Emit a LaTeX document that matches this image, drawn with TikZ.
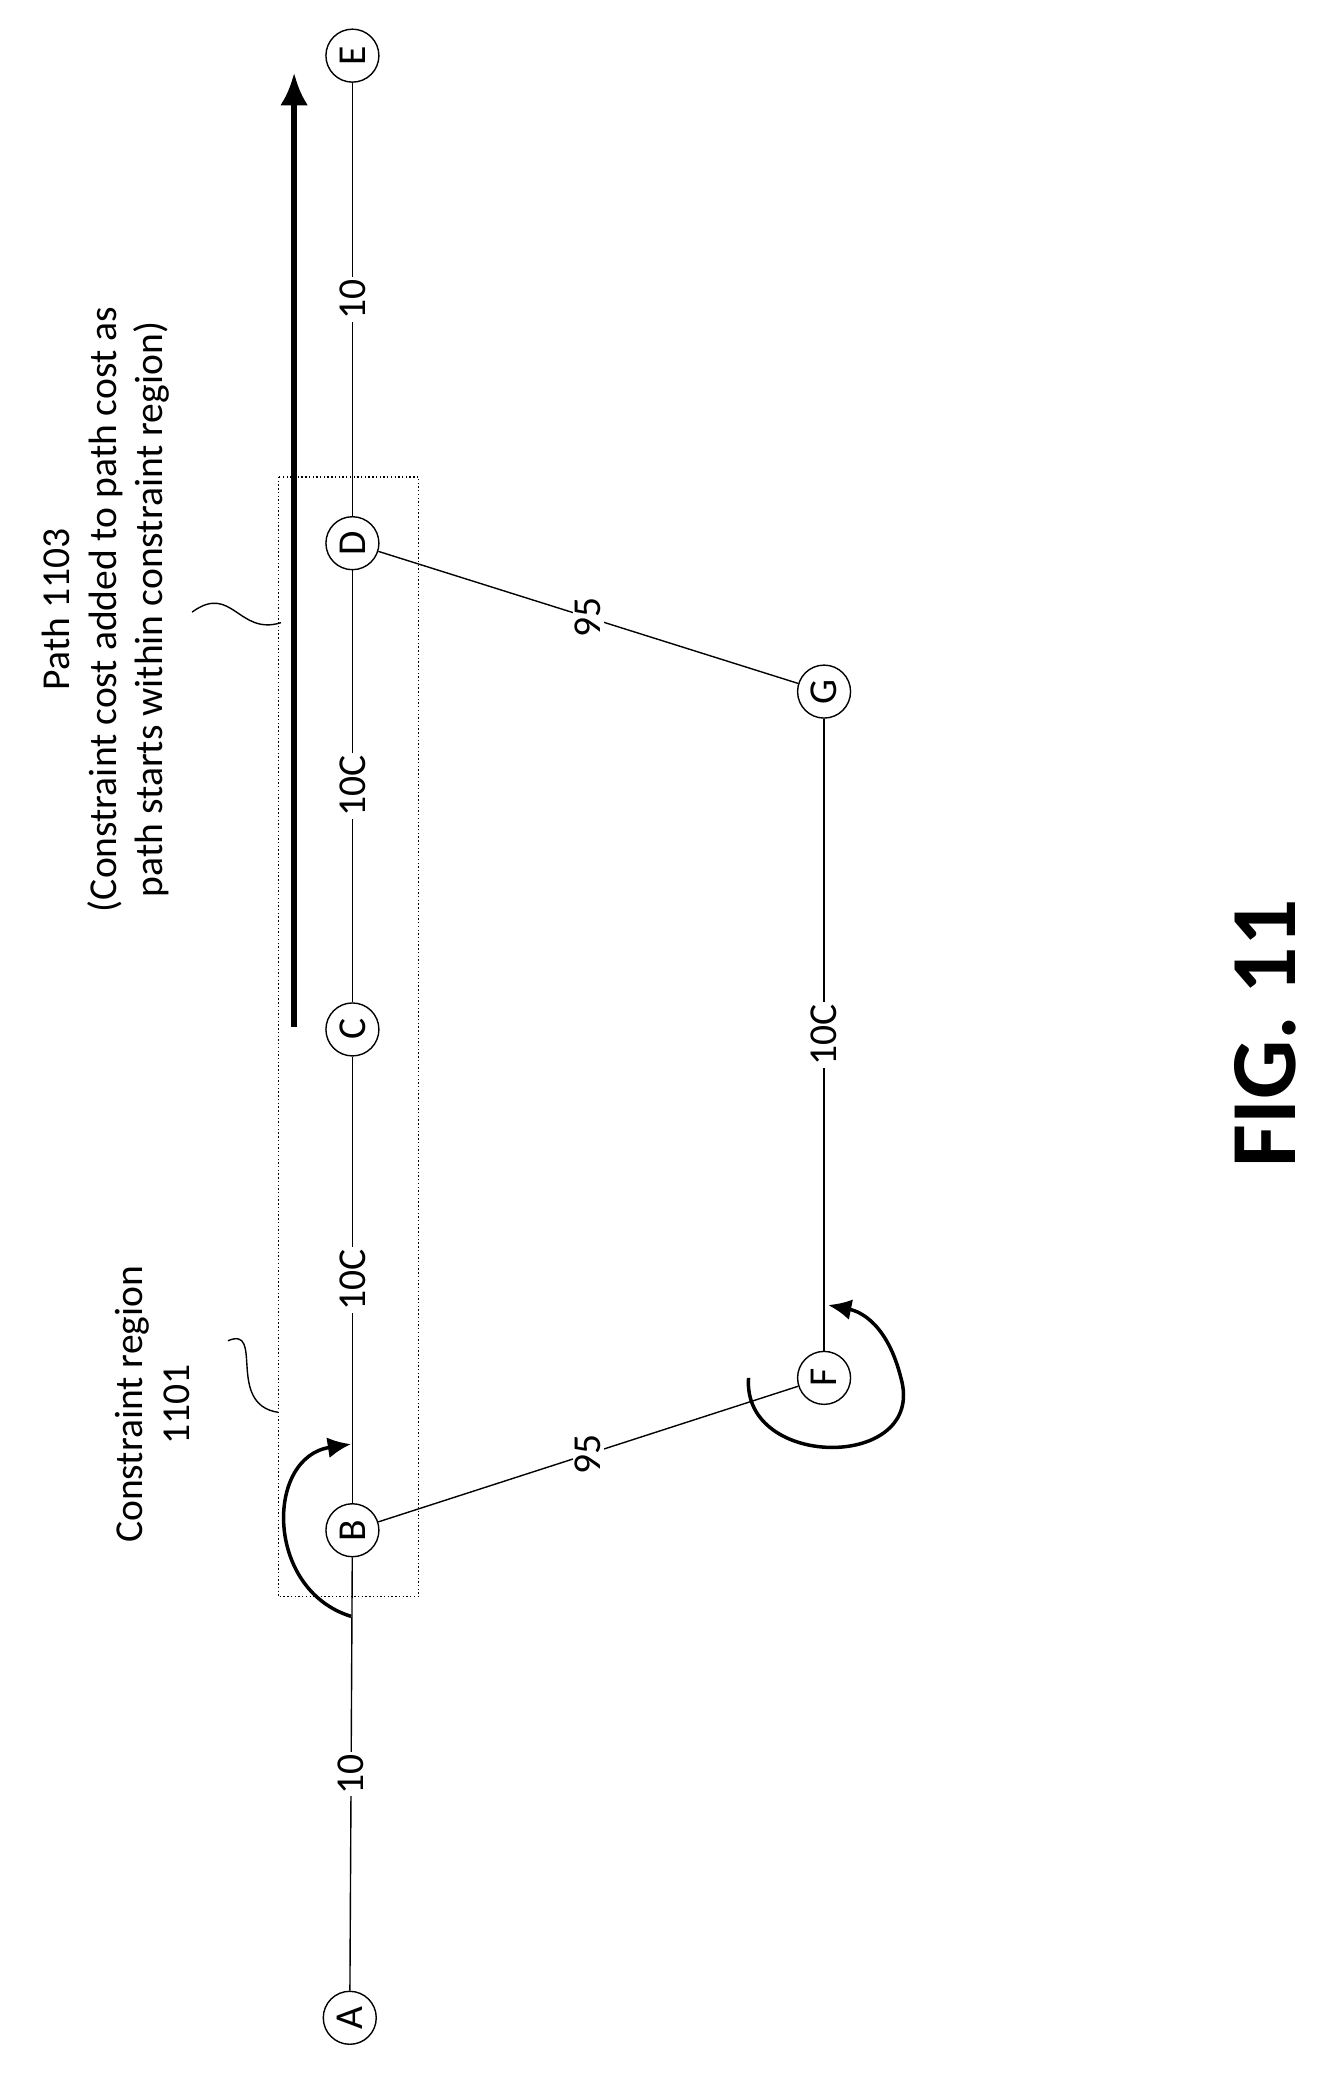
\documentclass[tikz,border=0pt]{standalone}
\usepackage{fontspec}
\setmainfont{Carlito}
\usetikzlibrary{arrows.meta,decorations.pathmorphing}
\begin{document}
\begin{tikzpicture}[x=0.02cm,y=-0.02cm,line width=0.6pt]
    \tikzset{
      vertex/.style={draw,circle,minimum size=0.8cm,inner sep=0pt,font=\fontsize{17}{17}\selectfont,rotate=90},
      cost/.style={fill=white,inner sep=1pt,font=\fontsize{17}{17}\selectfont,rotate=90},
      note/.style={align=center,font=\fontsize{17}{20}\selectfont,rotate=90}
    }
    \useasboundingbox (0,0) rectangle (1000,1576);

    \node [vertex] (A) at (264,1523) {A};
    \node [vertex] (B) at (266,1155) {B};
    \node [vertex] (C) at (266,777) {C};
    \node [vertex] (D) at (266,410) {D};
    \node [vertex] (E) at (266,42) {E};
    \node [vertex] (F) at (622,1040) {F};
    \node [vertex] (G) at (622,522) {G};

    \draw (A) -- node [cost] {10} (B);
    \draw (B) -- node [cost] {10C} (C);
    \draw (C) -- node [cost] {10C} (D);
    \draw (D) -- node [cost] {10} (E);
    \draw (B) -- node [cost] {95} (F);
    \draw (D) -- node [cost] {95} (G);
    \draw (F) -- node [cost] {10C} (G);

    \draw [densely dotted] (210,360) rectangle (316,1205);

    \draw [line width=2.5pt,-{Latex[length=14pt,width=12pt]}] (222,775) -- (222,55);

    \node [note] (path) at (80,460) {Path 1103\\(Constraint cost added to path cost as\\path starts within constraint region)};
    \node [note] (region) at (115,1060) {Constraint region\\1101};
    \draw (145,462) .. controls (175,440) and (180,480) .. (212,470);
    \draw (172,1012) .. controls (200,1000) and (170,1060) .. (210,1066);

    \draw [line width=1.5pt,-{Latex[length=10pt,width=9pt]}] (265,1220) .. controls (200,1200) and (200,1100) .. (265,1090);
    \draw [line width=1.5pt,-{Latex[length=10pt,width=9pt]}] (565,1040) .. controls (560,1110) and (700,1110) .. (680,1040) .. controls (670,1000) and (650,990) .. (625,985);

    \node [rotate=90,font=\bfseries\fontsize{40}{40}\selectfont] (fig) at (955,780) {FIG. 11};
\end{tikzpicture}
\end{document}
